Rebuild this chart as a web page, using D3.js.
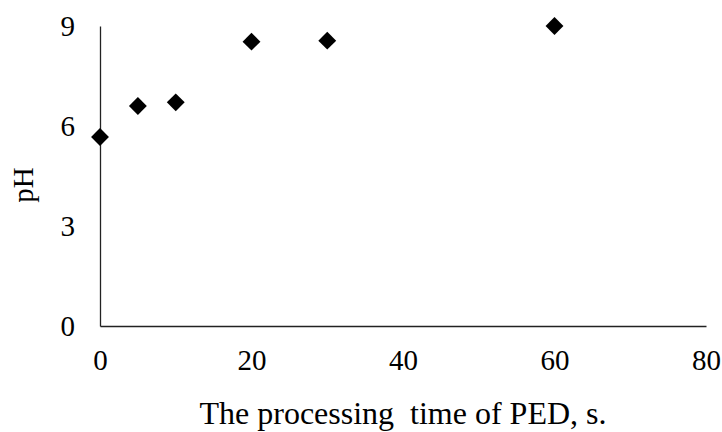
<!DOCTYPE html>
<html>
<head>
<meta charset="utf-8">
<script src="https://cdn.jsdelivr.net/npm/d3@7"></script>
<style>
  body { margin: 0; background: #fff; }
  svg { display: block; }
  text { font-family: "Liberation Serif", "Times New Roman", serif; fill: #000; }
</style>
</head>
<body>
<svg id="chart"></svg>
<script>
// data
const times = [0, 5, 10, 20, 30, 60];
const phValues = [5.67, 6.6, 6.71, 8.53, 8.56, 9.0];
const xTicks = [0, 20, 40, 60, 80];
const yTicks = [0, 3, 6, 9];

const width = 722, height = 432;
const margin = {top: 26, right: 16, bottom: 106, left: 100};
const innerW = width - margin.left - margin.right;
const innerH = height - margin.top - margin.bottom;

const svg = d3.select('#chart')
    .attr('width', width)
    .attr('height', height);

const chart = svg.append('g')
    .attr('transform', `translate(${margin.left}, ${margin.top})`);

const xScale = d3.scaleLinear().domain([0, 80]).range([0, innerW]);
const yScale = d3.scaleLinear().domain([0, 9]).range([innerH, 0]);

// x axis, no tick marks
const xAxis = chart.append('g')
    .attr('transform', `translate(0, ${innerH})`)
    .call(d3.axisBottom(xScale).tickValues(xTicks).tickSize(0).tickPadding(23));
xAxis.select('.domain').attr('stroke', '#222').attr('stroke-width', 1.6);
xAxis.selectAll('text')
    .attr('font-size', 29)
    .style('font-family', '"Liberation Serif", serif');

// y axis
const yAxis = chart.append('g')
    .call(d3.axisLeft(yScale).tickValues(yTicks).tickSize(0).tickPadding(25));
yAxis.select('.domain').attr('stroke', '#222').attr('stroke-width', 1.3);
yAxis.selectAll('text')
    .attr('font-size', 29)
    .style('font-family', '"Liberation Serif", serif');

// points (diamonds)
const diamond = d3.symbol().type(d3.symbolSquare).size(160);
chart.selectAll('path.pt')
    .data(times.map((t, i) => ({t: t, v: phValues[i]})))
    .join('path')
    .attr('class', 'pt')
    .attr('d', diamond)
    .attr('transform', d => `translate(${xScale(d.t)}, ${yScale(d.v)}) rotate(45)`)
    .attr('fill', '#000');

// axis titles
svg.append('text')
    .attr('x', margin.left + innerW / 2)
    .attr('y', 424)
    .attr('text-anchor', 'middle')
    .attr('font-size', 32)
    .style('white-space', 'pre')
    .text('The processing  time of PED, s.');

svg.append('text')
    .attr('transform', `translate(33, 185) rotate(-90)`)
    .attr('text-anchor', 'middle')
    .attr('font-size', 29)
    .text('pH');
</script>
</body>
</html>
